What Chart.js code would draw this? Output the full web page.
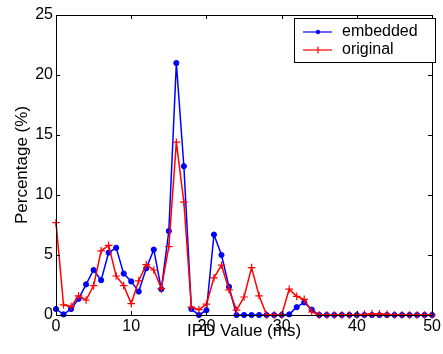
<!DOCTYPE html>
<html>
<head>
<meta charset="utf-8">
<script src="https://cdn.jsdelivr.net/npm/chart.js@4/dist/chart.umd.min.js"></script>
<style>
  html, body { margin: 0; padding: 0; background: #fff; }
  #wrap { width: 443px; height: 354px; }
</style>
</head>
<body>
<div id="wrap"><canvas id="ipdChart" width="443" height="354"></canvas></div>
<script>
// IPD value (ms), one point per integer 0..50
var ipdValues = [];
for (var i = 0; i <= 50; i++) ipdValues.push(i);

var embedded = [0.5, 0.05, 0.5, 1.35, 2.55, 3.75, 2.9, 5.2, 5.6, 3.45,
                2.8, 1.95, 3.9, 5.45, 2.15, 7.0, 21.0, 12.4, 0.5, 0.0,
                0.4, 6.7, 5.0, 2.35, 0, 0, 0, 0, 0, 0,
                0, 0.05, 0.65, 1.05, 0.45, 0, 0, 0, 0, 0,
                0, 0, 0, 0, 0, 0, 0, 0, 0, 0, 0];
var original = [7.7, 0.85, 0.7, 1.6, 1.25, 2.45, 5.35, 5.8, 3.25, 2.45,
                0.95, 2.85, 4.2, 3.75, 2.2, 5.7, 14.4, 9.4, 0.65, 0.45,
                0.9, 3.1, 4.15, 2.1, 0.4, 1.5, 3.95, 1.6, 0, 0,
                0, 2.15, 1.55, 1.3, 0.25, 0, 0, 0, 0, 0,
                0, 0.05, 0.1, 0.1, 0.05, 0, 0, 0, 0, 0, 0];

var xTicks = [0, 10, 20, 30, 40, 50];
var yTicks = [0, 5, 10, 15, 20, 25];
var seriesNames = ['embedded', 'original'];

function toPoints(values) {
    return values.map(function(v, idx) { return { x: ipdValues[idx], y: v }; });
}

var FONT = 'Liberation Sans, Arial, Helvetica, sans-serif';

// box around the axes, inward ticks on all sides, MATLAB style legend
var matlabAxes = {
    id: 'matlabAxes',
    afterDraw: function(chart) {
        var ctx = chart.ctx;
        var a = chart.chartArea;
        var sx = chart.scales.x, sy = chart.scales.y;
        ctx.save();
        ctx.strokeStyle = '#000';
        ctx.lineWidth = 1;
        ctx.strokeRect(Math.round(a.left) + 0.5, Math.round(a.top) + 0.5,
                       Math.round(a.right - a.left), Math.round(a.bottom - a.top));
        var tl = 4;
        xTicks.forEach(function(t) {
            var px = Math.round(sx.getPixelForValue(t)) + 0.5;
            ctx.beginPath();
            ctx.moveTo(px, a.bottom); ctx.lineTo(px, a.bottom - tl);
            ctx.moveTo(px, a.top); ctx.lineTo(px, a.top + tl);
            ctx.stroke();
        });
        yTicks.forEach(function(t) {
            var py = Math.round(sy.getPixelForValue(t)) + 0.5;
            ctx.beginPath();
            ctx.moveTo(a.left, py); ctx.lineTo(a.left + tl, py);
            ctx.moveTo(a.right, py); ctx.lineTo(a.right - tl, py);
            ctx.stroke();
        });

        // legend
        var lx = 294.5, ly = 18.5, lw = 141, lh = 44;
        ctx.fillStyle = '#fff';
        ctx.fillRect(lx, ly, lw, lh);
        ctx.strokeRect(lx, ly, lw, lh);
        var rows = [
            { name: seriesNames[0], color: '#0000ff', marker: 'dot', y: 32 },
            { name: seriesNames[1], color: '#ff0000', marker: 'plus', y: 50 }
        ];
        ctx.font = '16px ' + FONT;
        ctx.textBaseline = 'middle';
        rows.forEach(function(r) {
            ctx.strokeStyle = r.color;
            ctx.fillStyle = r.color;
            ctx.lineWidth = 1.2;
            ctx.beginPath();
            ctx.moveTo(303, r.y); ctx.lineTo(332, r.y);
            ctx.stroke();
            if (r.marker === 'dot') {
                ctx.beginPath();
                ctx.arc(318, r.y, 2.2, 0, Math.PI * 2);
                ctx.fill();
            } else {
                ctx.beginPath();
                ctx.moveTo(318, r.y - 3.5); ctx.lineTo(318, r.y + 3.5);
                ctx.stroke();
            }
            ctx.fillStyle = '#000';
            ctx.fillText(r.name, 342, r.y);
        });
        ctx.restore();
    }
};

var ctx = document.getElementById('ipdChart').getContext('2d');
var chart = new Chart(ctx, {
    type: 'scatter',
    data: {
        datasets: [
            {
                label: seriesNames[0],
                data: toPoints(embedded),
                showLine: true,
                borderColor: '#0000ff',
                backgroundColor: '#0000ff',
                borderWidth: 1.5,
                pointStyle: 'circle',
                pointRadius: 2.6,
                pointBorderWidth: 1,
                clip: 5,
                order: 1
            },
            {
                label: seriesNames[1],
                data: toPoints(original),
                showLine: true,
                borderColor: '#ff0000',
                backgroundColor: '#ff0000',
                borderWidth: 1.5,
                pointStyle: 'cross',
                pointRadius: 3.8,
                pointBorderWidth: 1.2,
                clip: 5,
                order: 0
            }
        ]
    },
    options: {
        responsive: false,
        animation: false,
        layout: { padding: { top: 15, right: 7, left: 0, bottom: 0 } },
        plugins: {
            legend: { display: false },
            tooltip: { enabled: false }
        },
        scales: {
            x: {
                type: 'linear',
                min: 0, max: 50,
                grid: { display: false, drawTicks: false },
                border: { display: false },
                afterFit: function(s) { s.height = 39; },
                afterBuildTicks: function(s) { s.ticks = xTicks.map(function(v) { return { value: v }; }); },
                ticks: { color: '#000', font: { family: FONT, size: 16 }, padding: 2, maxRotation: 0 },
                title: { display: true, text: 'IPD Value (ms)', color: '#000',
                         font: { family: FONT, size: 17 }, padding: { top: 0, bottom: 12 } }
            },
            y: {
                min: 0, max: 25,
                grid: { display: false, drawTicks: false },
                border: { display: false },
                afterFit: function(s) { s.width = 56; },
                afterBuildTicks: function(s) { s.ticks = yTicks.map(function(v) { return { value: v }; }); },
                ticks: { color: '#000', font: { family: FONT, size: 16 }, padding: 3 },
                title: { display: true, text: 'Percentage (%)', color: '#000',
                         font: { family: FONT, size: 17 }, padding: { top: 12, bottom: 0 } }
            }
        }
    },
    plugins: [matlabAxes]
});
</script>
</body>
</html>
